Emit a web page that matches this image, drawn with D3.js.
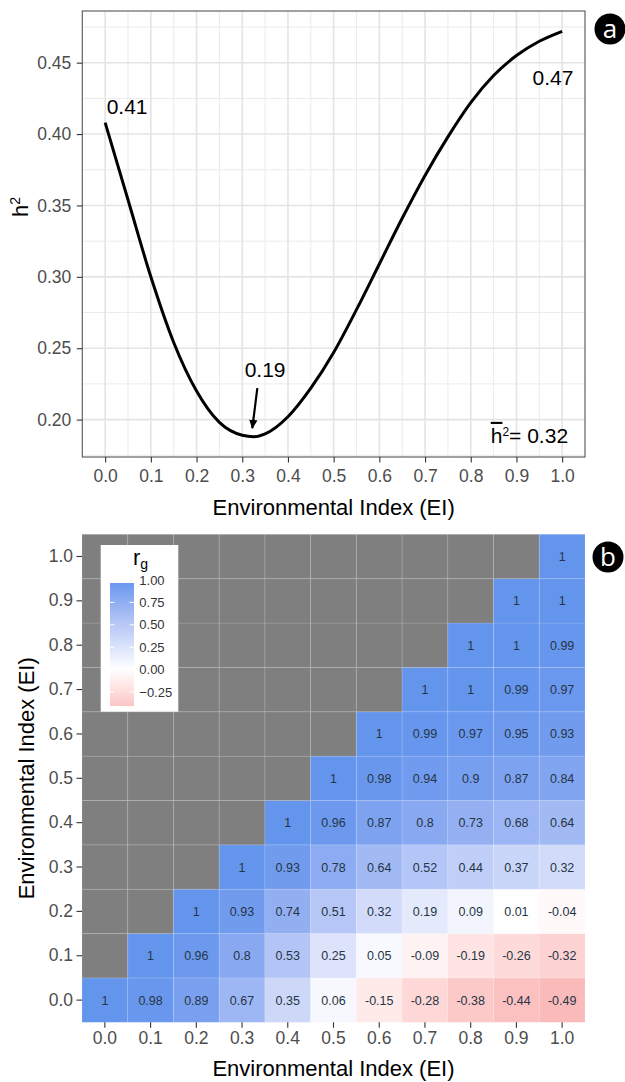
<!DOCTYPE html>
<html>
<head>
<meta charset="utf-8">
<script src="https://cdn.jsdelivr.net/npm/d3@7"></script>
<style>
  body { margin: 0; background: #fff; }
  svg text { font-family: "Liberation Sans", Arial, Helvetica, sans-serif; }
</style>
</head>
<body>
<div id="chart"></div>
<script>
// panel a: heritability along the environmental index
const eiPoints = [0, 0.05, 0.1, 0.15, 0.2, 0.25, 0.3, 0.325, 0.35, 0.4, 0.45, 0.5, 0.55, 0.6, 0.65, 0.7, 0.75, 0.8, 0.85, 0.9, 0.95, 1];
const h2Values = [0.408, 0.354, 0.300, 0.254, 0.220, 0.198, 0.189, 0.188, 0.190, 0.202, 0.222, 0.247, 0.277, 0.309, 0.341, 0.371, 0.398, 0.422, 0.441, 0.455, 0.465, 0.472];
const eiTicks = [0, 0.1, 0.2, 0.3, 0.4, 0.5, 0.6, 0.7, 0.8, 0.9, 1];
const h2Ticks = [0.20, 0.25, 0.30, 0.35, 0.40, 0.45];
const h2Callouts = [
  { ei: 0.048, h2: 0.419, label: "0.41" },
  { ei: 0.980, h2: 0.440, label: "0.47" },
  { ei: 0.350, h2: 0.235, label: "0.19" }
];
const minArrow = [[0.333, 0.222], [0.322, 0.194]];
const meanH2 = "0.32";

// panel b: genetic correlation between EI levels (rows = y level, null = not shown)
const eiLabels = ["0.0", "0.1", "0.2", "0.3", "0.4", "0.5", "0.6", "0.7", "0.8", "0.9", "1.0"];
const rgRows = [
  [1, 0.98, 0.89, 0.67, 0.35, 0.06, -0.15, -0.28, -0.38, -0.44, -0.49],
  [null, 1, 0.96, 0.8, 0.53, 0.25, 0.05, -0.09, -0.19, -0.26, -0.32],
  [null, null, 1, 0.93, 0.74, 0.51, 0.32, 0.19, 0.09, 0.01, -0.04],
  [null, null, null, 1, 0.93, 0.78, 0.64, 0.52, 0.44, 0.37, 0.32],
  [null, null, null, null, 1, 0.96, 0.87, 0.8, 0.73, 0.68, 0.64],
  [null, null, null, null, null, 1, 0.98, 0.94, 0.9, 0.87, 0.84],
  [null, null, null, null, null, null, 1, 0.99, 0.97, 0.95, 0.93],
  [null, null, null, null, null, null, null, 1, 1, 0.99, 0.97],
  [null, null, null, null, null, null, null, null, 1, 1, 0.99],
  [null, null, null, null, null, null, null, null, null, 1, 1],
  [null, null, null, null, null, null, null, null, null, null, 1]
];
const legendBreaks = [1, 0.75, 0.5, 0.25, 0, -0.25];

document.addEventListener('DOMContentLoaded', function () {
  const svg = d3.select("#chart").append("svg")
    .attr("width", 625)
    .attr("height", 1082);

  const tickGrey = "#333333";
  const labelGrey = "#4d4d4d";

  // ---------- panel a ----------
  const a = { left: 82.3, right: 585, top: 11, bottom: 457 };
  const x = d3.scaleLinear().domain([-0.05, 1.05]).range([a.left, a.right]);
  const y = d3.scaleLinear().domain([0.1738, 0.4862]).range([a.bottom, a.top]);

  const gA = svg.append("g");

  // minor grid (between major breaks)
  const minorX = eiTicks.slice(1).map((t, i) => (t + eiTicks[i]) / 2);
  const minorY = [0.175].concat(h2Ticks.slice(1).map((t, i) => (t + h2Ticks[i]) / 2), [0.475]);
  gA.selectAll(".minx").data(minorX).enter().append("line")
    .attr("x1", d => x(d)).attr("x2", d => x(d))
    .attr("y1", a.top).attr("y2", a.bottom)
    .attr("stroke", "#ebebeb").attr("stroke-width", 1);
  gA.selectAll(".miny").data(minorY).enter().append("line")
    .attr("x1", a.left).attr("x2", a.right)
    .attr("y1", d => y(d)).attr("y2", d => y(d))
    .attr("stroke", "#ebebeb").attr("stroke-width", 1);
  gA.selectAll(".majx").data(eiTicks).enter().append("line")
    .attr("x1", d => x(d)).attr("x2", d => x(d))
    .attr("y1", a.top).attr("y2", a.bottom)
    .attr("stroke", "#e4e4e4").attr("stroke-width", 1.6);
  gA.selectAll(".majy").data(h2Ticks).enter().append("line")
    .attr("x1", a.left).attr("x2", a.right)
    .attr("y1", d => y(d)).attr("y2", d => y(d))
    .attr("stroke", "#e4e4e4").attr("stroke-width", 1.6);

  // curve
  const line = d3.line()
    .x(d => x(d[0]))
    .y(d => y(d[1]))
    .curve(d3.curveMonotoneX);
  gA.append("path")
    .datum(eiPoints.map((e, i) => [e, h2Values[i]]))
    .attr("fill", "none")
    .attr("stroke", "#000")
    .attr("stroke-width", 3)
    .attr("d", line);

  // panel border
  gA.append("rect")
    .attr("x", a.left).attr("y", a.top)
    .attr("width", a.right - a.left).attr("height", a.bottom - a.top)
    .attr("fill", "none").attr("stroke", "#555").attr("stroke-width", 1.1);

  // axes
  const axA_x = gA.append("g")
    .attr("transform", `translate(0,${a.bottom})`)
    .call(d3.axisBottom(x).tickValues(eiTicks).tickFormat(d3.format(".1f")).tickSize(5.5).tickPadding(7.5));
  const axA_y = gA.append("g")
    .attr("transform", `translate(${a.left},0)`)
    .call(d3.axisLeft(y).tickValues(h2Ticks).tickFormat(d3.format(".2f")).tickSize(5.5).tickPadding(5.5));
  [axA_x, axA_y].forEach(ax => {
    ax.select(".domain").remove();
    ax.selectAll(".tick line").attr("stroke", tickGrey).attr("stroke-width", 1.1);
    ax.selectAll(".tick text").attr("fill", labelGrey).style("font-size", "17.5px");
  });

  gA.append("text")
    .attr("x", (a.left + a.right) / 2).attr("y", 515)
    .attr("text-anchor", "middle")
    .style("font-size", "22px")
    .text("Environmental Index (EI)");

  const h2Title = gA.append("text")
    .attr("transform", "translate(28,207) rotate(-90)")
    .attr("text-anchor", "middle")
    .style("font-size", "22px");
  h2Title.append("tspan").text("h");
  h2Title.append("tspan").attr("dy", "-0.55em").style("font-size", "14px").text("2");

  // callouts
  gA.selectAll(".callout").data(h2Callouts).enter().append("text")
    .attr("x", d => x(d.ei)).attr("y", d => y(d.h2))
    .attr("dy", "0.36em")
    .attr("text-anchor", "middle")
    .style("font-size", "21px")
    .text(d => d.label);

  svg.append("defs").append("marker")
    .attr("id", "arrowhead")
    .attr("viewBox", "0 0 10 10")
    .attr("refX", 9).attr("refY", 5)
    .attr("markerWidth", 4.2).attr("markerHeight", 4.2)
    .attr("markerUnits", "strokeWidth")
    .attr("orient", "auto")
    .append("path")
    .attr("d", "M0,0.5 L10,5 L0,9.5 Z")
    .attr("fill", "#000");

  gA.append("line")
    .attr("x1", x(minArrow[0][0])).attr("y1", y(minArrow[0][1]))
    .attr("x2", x(minArrow[1][0])).attr("y2", y(minArrow[1][1]))
    .attr("stroke", "#000").attr("stroke-width", 2.2)
    .attr("marker-end", "url(#arrowhead)");

  const meanLabel = gA.append("text")
    .attr("x", x(1.013)).attr("y", y(0.189))
    .attr("dy", "0.36em")
    .attr("text-anchor", "end")
    .style("font-size", "21px");
  meanLabel.append("tspan").style("text-decoration", "overline").text("h");
  meanLabel.append("tspan").attr("dy", "-0.6em").style("font-size", "12px").text("2");
  meanLabel.append("tspan").attr("dy", "0.35em").text("= " + meanH2);

  // ---------- panel b ----------
  const b = { left: 82, right: 585, top: 534.3, bottom: 1022.3 };
  const bx = d3.scaleBand().domain(eiLabels).range([b.left, b.right]);
  const by = d3.scaleBand().domain(eiLabels).range([b.bottom, b.top]);

  const fill = d3.scaleLinear()
    .domain([-1, 0, 1])
    .range(["#ea6f78", "#ffffff", "#6495ED"])
    .interpolate(d3.interpolateLab);

  const cells = [];
  rgRows.forEach((row, ri) => {
    row.forEach((v, ci) => cells.push({ row: eiLabels[ri], col: eiLabels[ci], value: v }));
  });

  const gB = svg.append("g");
  gB.selectAll(".cell").data(cells).enter().append("rect")
    .attr("x", d => bx(d.col))
    .attr("y", d => by(d.row))
    .attr("width", bx.bandwidth())
    .attr("height", by.bandwidth())
    .attr("fill", d => d.value === null ? "#7f7f7f" : fill(d.value))
    .attr("stroke", "rgba(255,255,255,0.12)")
    .attr("stroke-width", 1);

  gB.selectAll(".cell-label").data(cells.filter(d => d.value !== null)).enter().append("text")
    .attr("x", d => bx(d.col) + bx.bandwidth() / 2)
    .attr("y", d => by(d.row) + by.bandwidth() / 2)
    .attr("dy", "0.36em")
    .attr("text-anchor", "middle")
    .attr("fill", "#263545")
    .style("font-size", "12.5px")
    .text(d => String(d.value));

  const axB_x = gB.append("g")
    .attr("transform", `translate(0,${b.bottom})`)
    .call(d3.axisBottom(bx).tickSize(5.5).tickPadding(4));
  const axB_y = gB.append("g")
    .attr("transform", `translate(${b.left},0)`)
    .call(d3.axisLeft(by).tickSize(5.5).tickPadding(3.5));
  [axB_x, axB_y].forEach(ax => {
    ax.select(".domain").remove();
    ax.selectAll(".tick line").attr("stroke", tickGrey).attr("stroke-width", 1.1);
    ax.selectAll(".tick text").attr("fill", labelGrey).style("font-size", "17.5px");
  });

  gB.append("text")
    .attr("x", (b.left + b.right) / 2).attr("y", 1076)
    .attr("text-anchor", "middle")
    .style("font-size", "22px")
    .text("Environmental Index (EI)");

  gB.append("text")
    .attr("transform", `translate(34,${(b.top + b.bottom) / 2}) rotate(-90)`)
    .attr("text-anchor", "middle")
    .style("font-size", "22px")
    .text("Environmental Index (EI)");

  // legend
  const leg = gB.append("g");
  leg.append("rect")
    .attr("x", 100.7).attr("y", 545)
    .attr("width", 77.6).attr("height", 166.7)
    .attr("fill", "#fff");
  const rgTitle = leg.append("text")
    .attr("x", 133).attr("y", 565)
    .style("font-size", "22px");
  rgTitle.append("tspan").text("r");
  rgTitle.append("tspan").attr("dy", "0.3em").style("font-size", "14px").text("g");

  const legY = d3.scaleLinear().domain([1, -0.25]).range([580, 692]);
  const barTop = 583, barBottom = 706;
  const grad = svg.select("defs").append("linearGradient")
    .attr("id", "rgGrad")
    .attr("x1", 0).attr("x2", 0).attr("y1", 0).attr("y2", 1);
  d3.range(0, 21).forEach(i => {
    const py = barTop + (barBottom - barTop) * i / 20;
    grad.append("stop")
      .attr("offset", (i / 20 * 100) + "%")
      .attr("stop-color", fill(Math.min(1, legY.invert(py))));
  });
  leg.append("rect")
    .attr("x", 110).attr("y", barTop)
    .attr("width", 24).attr("height", barBottom - barTop)
    .attr("fill", "url(#rgGrad)");
  leg.selectAll(".legtick").data(legendBreaks.slice(1)).enter().append("g")
    .each(function (d) {
      const g = d3.select(this);
      g.append("line").attr("x1", 110).attr("x2", 114.5)
        .attr("y1", legY(d)).attr("y2", legY(d))
        .attr("stroke", "#fff").attr("stroke-width", 1);
      g.append("line").attr("x1", 129.5).attr("x2", 134)
        .attr("y1", legY(d)).attr("y2", legY(d))
        .attr("stroke", "#fff").attr("stroke-width", 1);
    });
  leg.selectAll(".leglabel").data(legendBreaks).enter().append("text")
    .attr("x", 139.3)
    .attr("y", d => legY(d))
    .attr("dy", "0.36em")
    .attr("fill", "#333")
    .style("font-size", "13px")
    .text(d => d3.format(".2f")(d));

  // panel badges
  const badges = [{ cx: 610, cy: 29, letter: "a" }, { cx: 608, cy: 557, letter: "b" }];
  const badge = svg.selectAll(".badge").data(badges).enter().append("g");
  badge.append("circle")
    .attr("cx", d => d.cx).attr("cy", d => d.cy).attr("r", 15.5)
    .attr("fill", "#000");
  badge.append("text")
    .attr("x", d => d.cx).attr("y", d => d.cy)
    .attr("dy", "0.35em")
    .attr("text-anchor", "middle")
    .attr("fill", "#fff")
    .style("font-family", "'Open Sans', 'Noto Sans', sans-serif")
    .style("font-size", "26px")
    .text(d => d.letter);
});
</script>
</body>
</html>
